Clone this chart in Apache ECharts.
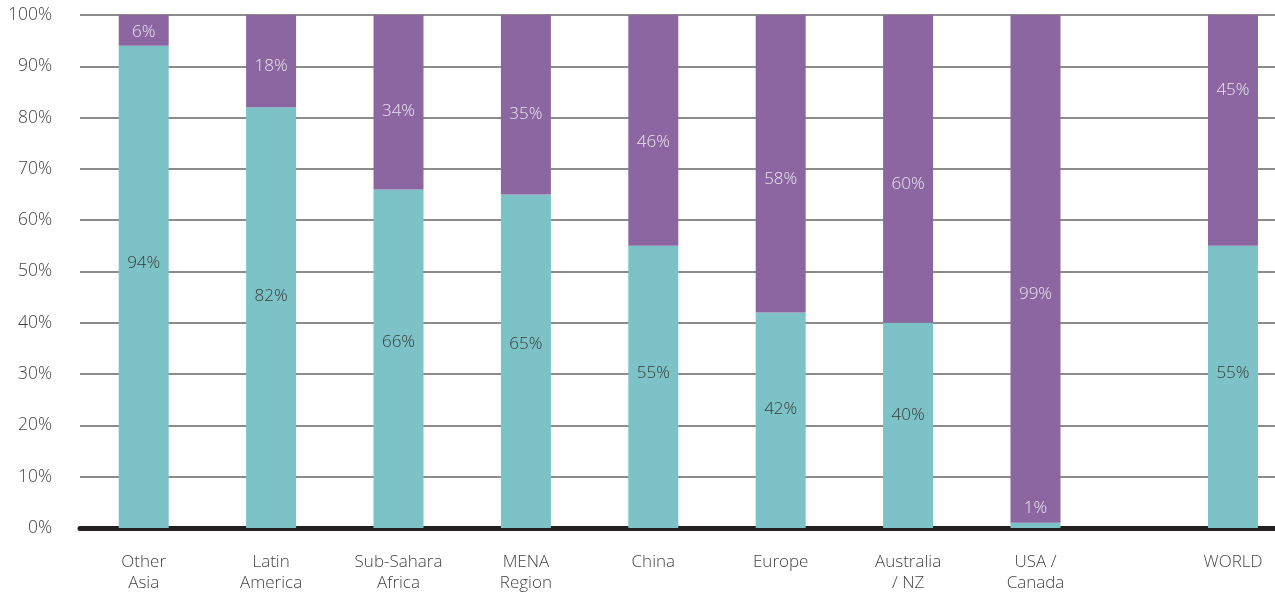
<!DOCTYPE html>
<html>
<head>
<meta charset="utf-8">
<script src="https://cdn.jsdelivr.net/npm/echarts@6/dist/echarts.min.js"></script>
<style>
  html, body { margin: 0; padding: 0; background: #ffffff; }
  #chart { width: 1275px; height: 594px; }
</style>
</head>
<body>
<div id="chart"></div>
<script>
// Regional shares, in percent
const categories = ['Other\nAsia', 'Latin\nAmerica', 'Sub-Sahara\nAfrica', 'MENA\nRegion', 'China', 'Europe', 'Australia\n/ NZ', 'USA /\nCanada', 'WORLD'];
const tealShare   = [94, 82, 66, 65, 55, 42, 40, 1, 55];
const purpleShare = [6, 18, 34, 35, 46, 58, 60, 99, 45];
const yTicks = [0, 10, 20, 30, 40, 50, 60, 70, 80, 90, 100];

// Horizontal layout: each region takes one slot; the world total sits apart
const SLOT = 20;
const WORLD_GAP = 1.55;
const slotPos = categories.map((c, i) =>
  i < categories.length - 1 ? i * SLOT : Math.round(((categories.length - 2) + WORLD_GAP) * SLOT));
const labelAt = {};
slotPos.forEach((p, i) => { labelAt[p] = categories[i]; });

const TEAL = '#7cc2c7';
const PURPLE = '#8b66a0';
const FONT = '"Open Sans", Lato, sans-serif';
const GRID = { left: 80, right: 0, top: 15, bottom: 65 };
const PX_PER_PCT = (594 - GRID.top - GRID.bottom) / 100;

// Value labels sit a little toward the teal/purple boundary
function nudge(v, dir) {
  return [0, dir * 0.05 * v * PX_PER_PCT];
}

// Items are [share, position] so the share is the stacked dimension
function seriesData(values, dir, override) {
  return values.map((v, i) => {
    const item = { value: [v, slotPos[i]], label: { offset: nudge(v, dir) } };
    const extra = override(v, i);
    if (extra) item.label = extra;
    return item;
  });
}

const LIGHT = '#ece4f1';
const DARK = '#3a3a3a';

const chart = echarts.init(document.getElementById('chart'), null, { renderer: 'canvas' });
chart.setOption({
  animation: false,
  backgroundColor: '#ffffff',
  grid: Object.assign({ containLabel: false }, GRID),
  xAxis: {
    type: 'value',
    min: -SLOT / 2,
    max: 177.6,
    interval: 1,
    axisLine: { show: true, onZero: true, lineStyle: { color: '#231f20', width: 5 } },
    axisTick: { show: false },
    splitLine: { show: false },
    axisLabel: {
      show: true,
      showMinLabel: false,
      showMaxLabel: false,
      margin: 24,
      fontFamily: FONT,
      fontSize: 17,
      fontWeight: 300,
      lineHeight: 21,
      color: '#444444',
      formatter: v => labelAt[Math.round(v)] || ''
    }
  },
  yAxis: {
    type: 'value',
    min: yTicks[0],
    max: yTicks[yTicks.length - 1],
    interval: yTicks[1] - yTicks[0],
    axisLine: { show: false },
    axisTick: { show: false },
    axisLabel: {
      margin: 28,
      fontFamily: FONT,
      fontSize: 17.5,
      fontWeight: 300,
      color: '#444444',
      formatter: '{value}%'
    },
    splitLine: { show: true, lineStyle: { color: '#8c8c8c', width: 2 } }
  },
  series: [
    {
      name: 'teal',
      type: 'bar',
      stack: 'share',
      barWidth: 50,
      encode: { x: 1, y: 0 },
      itemStyle: { color: TEAL },
      label: {
        show: true,
        position: 'inside',
        fontFamily: FONT,
        fontSize: 17,
        fontWeight: 300,
        color: DARK,
        formatter: p => p.value[0] + '%'
      },
      // a sliver too thin to hold its label gets it just above, in light text
      data: seriesData(tealShare, -1, v => v < 5 ? { position: 'top', distance: 6, color: LIGHT } : null)
    },
    {
      name: 'purple',
      type: 'bar',
      stack: 'share',
      barWidth: 50,
      clip: true,
      encode: { x: 1, y: 0 },
      itemStyle: { color: PURPLE },
      label: {
        show: true,
        position: 'inside',
        fontFamily: FONT,
        fontSize: 17,
        fontWeight: 300,
        color: LIGHT,
        formatter: p => p.value[0] + '%'
      },
      // the world total's label is set high in its bar
      data: seriesData(purpleShare, 1, (v, i) => i === categories.length - 1 ? { position: 'insideTop', distance: 67 } : null)
    }
  ]
});
</script>
</body>
</html>
